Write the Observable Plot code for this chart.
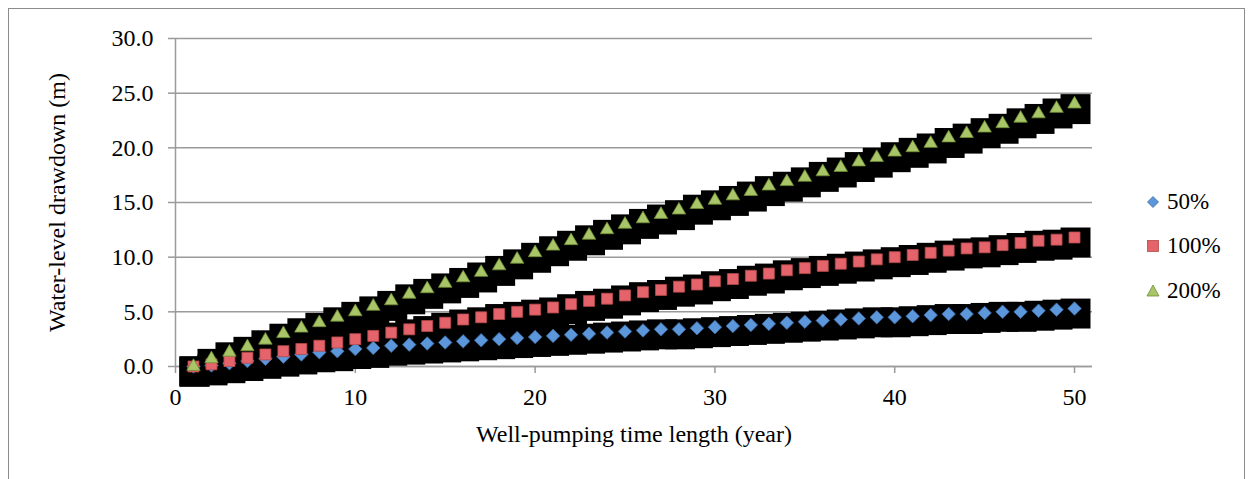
<!DOCTYPE html>
<html><head><meta charset="utf-8">
<script src="https://cdn.jsdelivr.net/npm/d3@7"></script>
<script src="https://cdn.jsdelivr.net/npm/@observablehq/plot@0.6"></script>
<style>
html,body{margin:0;padding:0;background:#fff;overflow:hidden;}
#wrap{position:relative;width:1253px;height:479px;}
#frame{position:absolute;left:8px;top:8px;width:1237px;height:520px;border:1px solid #8c8c8c;box-sizing:border-box;pointer-events:none;}
#legend{position:absolute;left:0;top:0;font-family:"Liberation Serif",serif;font-size:23px;color:#000;}
#legend span{font-family:"Liberation Serif",serif !important;}
.item{position:absolute;left:1146px;height:30px;display:flex;align-items:center;white-space:nowrap;}
.item svg{margin-right:7px;}
#chart svg, #chart svg text, #chart svg g{font-family:"Liberation Serif",serif !important;}
</style></head>
<body><div id="wrap"><div id="chart"></div><div id="frame"></div><div id="legend"></div></div>
<script>
const years = [1,2,3,4,5,6,7,8,9,10,11,12,13,14,15,16,17,18,19,20,21,22,23,24,25,26,27,28,29,30,31,32,33,34,35,36,37,38,39,40,41,42,43,44,45,46,47,48,49,50];
const s50 = [0.0,0.1,0.3,0.5,0.7,0.9,1.1,1.3,1.4,1.6,
  1.7,1.9,2.0,2.1,2.2,2.3,2.4,2.5,2.6,2.7,
  2.8,2.9,3.0,3.1,3.2,3.3,3.4,3.4,3.5,3.6,
  3.7,3.8,3.9,4.0,4.1,4.2,4.3,4.4,4.5,4.5,
  4.6,4.7,4.8,4.8,4.9,5.0,5.0,5.1,5.2,5.3];
const s100 = [0.0,0.2,0.5,0.8,1.1,1.4,1.6,1.9,2.2,2.5,
  2.8,3.1,3.4,3.7,4.0,4.3,4.5,4.8,5.0,5.2,
  5.4,5.7,6.0,6.2,6.5,6.8,7.0,7.3,7.5,7.8,
  8.0,8.3,8.5,8.8,9.0,9.2,9.4,9.6,9.8,10.0,
  10.2,10.4,10.6,10.8,10.9,11.1,11.3,11.5,11.6,11.8];
const s200 = [0.0,0.7,1.3,1.8,2.4,3.0,3.5,4.0,4.5,5.0,
  5.5,6.0,6.6,7.1,7.6,8.1,8.6,9.2,9.8,10.4,
  11.0,11.5,12.0,12.5,13.0,13.5,13.9,14.3,14.8,15.2,
  15.6,16.0,16.5,16.9,17.3,17.8,18.2,18.7,19.1,19.6,
  20.0,20.4,20.9,21.3,21.8,22.2,22.7,23.1,23.6,24.0];
const seriesNames = ["50%","100%","200%"];
const xTicks = [0,10,20,30,40,50];
const yTicks = [0,5,10,15,20,25,30];
const xLabel = "Well-pumping time length (year)";
const yLabel = "Water-level drawdown (m)";

const seriesValues = [s50, s100, s200];
const rows = seriesNames.map((name, k) => years.map((t, i) => ({t, v: seriesValues[k][i], s: name})));
const all = rows.flat();

const diamond = {draw(ctx, size){const h = Math.sqrt(size/2); ctx.moveTo(0,-h); ctx.lineTo(h,0); ctx.lineTo(0,h); ctx.lineTo(-h,0); ctx.closePath();}};
const styles = [
  {symbol: diamond, r: 5.4, fill: "#5b97da", stroke: "#3c6aa3"},
  {symbol: "square", r: 6.2, fill: "#e5636a", stroke: "#b44a4a"},
  {symbol: "triangle", r: 5.0, fill: "#a8c667", stroke: "#6f8c35"}
];
const FONT = "Liberation Serif";
const GRID = "#9a9a9a";

const chart = Plot.plot({
  width: 1253, height: 479,
  marginLeft: 175, marginRight: 161, marginTop: 38, marginBottom: 113,
  style: {fontFamily: FONT, fontSize: "24px", background: "transparent", color: "#000"},
  x: {domain: [0, 51]},
  y: {domain: [0, 30]},
  marks: [
    Plot.gridY(yTicks, {stroke: GRID, strokeOpacity: 1, strokeWidth: 1.5}),
    Plot.ruleX([0], {stroke: GRID, strokeWidth: 1.5}),
    Plot.ruleY([0], {stroke: GRID, strokeWidth: 1.5}),
    Plot.axisY(yTicks, {tickSize: 7, tickPadding: 15, stroke: GRID, strokeWidth: 1.5, tickFormat: d => d.toFixed(1), fontSize: 24, fontFamily: FONT,
      label: yLabel, labelAnchor: "center", labelArrow: "none", labelOffset: 128}),
    Plot.axisX(xTicks, {tickSize: 7, tickPadding: 14, stroke: GRID, strokeWidth: 1.5, tickFormat: d => String(d), fontSize: 24, fontFamily: FONT,
      label: xLabel, labelAnchor: "center", labelArrow: "none", labelOffset: 75}),
    Plot.dot(all, {x: "t", y: "v", symbol: "square", r: 16.9, fill: "#000", dx: 1, dy: 5}),
    ...rows.map((data, k) => Plot.dot(data, {x: "t", y: "v", symbol: styles[k].symbol, r: styles[k].r, fill: styles[k].fill, stroke: styles[k].stroke, strokeWidth: 0.8}))
  ]
});
document.getElementById("chart").appendChild(chart);

// legend
const legend = document.getElementById("legend");
const legendY = [187, 231, 276];
const iconSvg = [
  '<svg width="14" height="14" viewBox="-7 -7 14 14"><path d="M0,-5.5L5.5,0L0,5.5L-5.5,0Z" fill="#5b97da" stroke="#3c6aa3" stroke-width="0.8"/></svg>',
  '<svg width="14" height="14" viewBox="-7 -7 14 14"><rect x="-5.5" y="-5.5" width="11" height="11" fill="#e5636a" stroke="#b44a4a" stroke-width="0.8"/></svg>',
  '<svg width="14" height="14" viewBox="-7 -7 14 14"><path d="M0,-6L6,5L-6,5Z" fill="#a8c667" stroke="#6f8c35" stroke-width="0.8"/></svg>'
];
seriesNames.forEach((name, k) => {
  const d = document.createElement("div");
  d.className = "item";
  d.style.top = legendY[k] + "px";
  d.innerHTML = iconSvg[k] + "<span>" + name + "</span>";
  legend.appendChild(d);
});
</script>
</body></html>
